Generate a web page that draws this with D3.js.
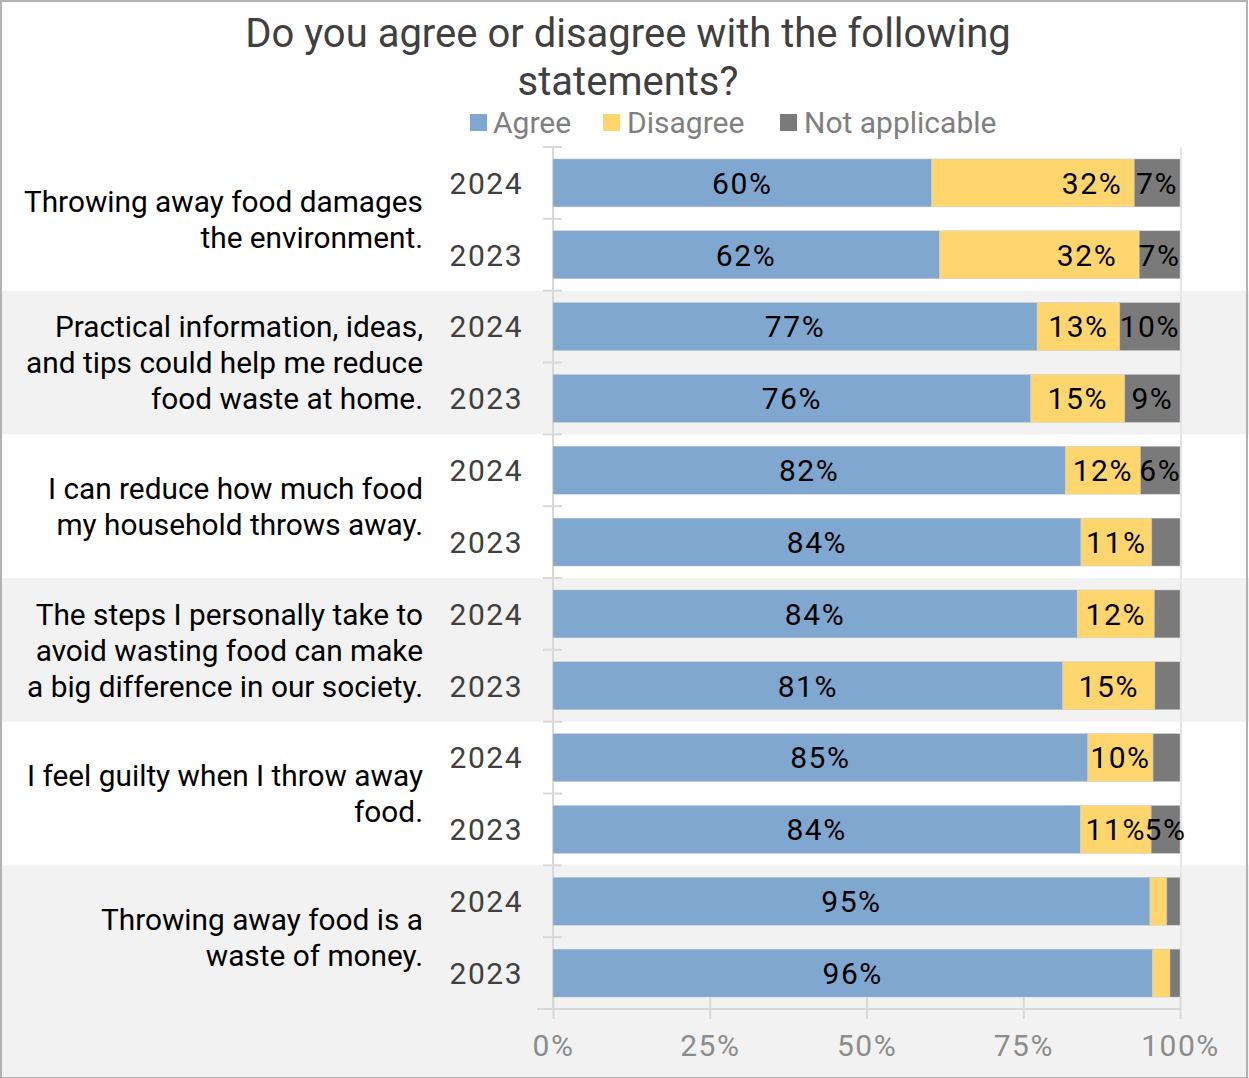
<!DOCTYPE html>
<html>
<head>
<meta charset="utf-8">
<script src="https://cdn.jsdelivr.net/npm/d3@7"></script>
<style>
  html, body { margin: 0; padding: 0; background: #ffffff; }
  svg text { font-family: Roboto, "Liberation Sans", sans-serif; }
</style>
</head>
<body>
<svg id="chart" width="1249" height="1078"></svg>
<script>
// Survey statements (one line per array entry)
const statements = [
  ["Throwing away food damages", "the environment."],
  ["Practical information, ideas,", "and tips could help me reduce", "food waste at home."],
  ["I can reduce how much food", "my household throws away."],
  ["The steps I personally take to", "avoid wasting food can make", "a big difference in our society."],
  ["I feel guilty when I throw away", "food."],
  ["Throwing away food is a", "waste of money."]
];
const years = ["2024", "2023"];
const seriesNames = ["Agree", "Disagree", "Not applicable"];

// Shares in percent, per statement, [2024, 2023]
const agree = [
  [60.4, 61.6], [77.2, 76.2], [81.7, 84.2], [83.6, 81.3], [85.3, 84.1], [95.2, 95.6]
];
const disagree = [
  [32.3, 31.9], [13.2, 15.0], [12.0, 11.3], [12.3, 14.7], [10.4, 11.3], [2.7, 2.8]
];
const notApplicable = [
  [7.3, 6.5], [9.6, 8.8], [6.3, 4.5], [4.1, 4.0], [4.3, 4.6], [2.1, 1.6]
];
// Which value labels are printed, per series, per statement, [2024, 2023]
const showAgreeLabel = [[1, 1], [1, 1], [1, 1], [1, 1], [1, 1], [1, 1]];
const showDisagreeLabel = [[1, 1], [1, 1], [1, 1], [1, 1], [1, 1], [0, 0]];
const showNALabel = [[1, 1], [1, 1], [1, 0], [0, 0], [0, 1], [0, 0]];
const tickValues = [0, 25, 50, 75, 100];

const colors = ["#7fa7cf", "#ffd66d", "#7a7a7a"];

const svg = d3.select("#chart");
const W = 1249, H = 1078;

const x = d3.scaleLinear().domain([0, 100]).range([553, 1180]);
const groupIdx = d3.range(statements.length);
const yGroup = d3.scaleBand().domain(groupIdx).range([147, 1009]);
const yYear = d3.scaleBand().domain(years)
  .range([0, yGroup.bandwidth()])
  .paddingInner(1 / 3).paddingOuter(1 / 6);

// background and alternating bands
svg.append("rect").attr("x", 0).attr("y", 0).attr("width", W).attr("height", H).attr("fill", "#ffffff");
groupIdx.forEach(g => {
  if (g % 2 === 1) {
    const top = yGroup(g);
    const bottom = g === statements.length - 1 ? H : top + yGroup.bandwidth();
    svg.append("rect")
      .attr("x", 0).attr("y", top)
      .attr("width", W).attr("height", bottom - top)
      .attr("fill", "#f2f2f2");
  }
});

// title
svg.append("text")
  .attr("x", 628).attr("y", 47)
  .attr("text-anchor", "middle")
  .attr("font-size", 40).attr("fill", "#404040")
  .selectAll("tspan")
  .data(["Do you agree or disagree with the following", "statements?"])
  .join("tspan")
  .attr("x", 628).attr("dy", (d, i) => i === 0 ? 0 : 48)
  .text(d => d);

// legend
const legendItems = [
  { name: seriesNames[0], sx: 470, tx: 493 },
  { name: seriesNames[1], sx: 603, tx: 627 },
  { name: seriesNames[2], sx: 780, tx: 804 }
];
const legend = svg.append("g");
legendItems.forEach((it, i) => {
  legend.append("rect").attr("x", it.sx).attr("y", 114).attr("width", 17).attr("height", 17).attr("fill", colors[i]);
  legend.append("text").attr("x", it.tx).attr("y", 133)
    .attr("font-size", 30).attr("fill", "#7f7f7f").text(it.name);
});

// axes lines
const axisColor = "#d9d9d9";
svg.append("line")
  .attr("x1", 553).attr("x2", 553)
  .attr("y1", yGroup.range()[0]).attr("y2", yGroup.range()[1])
  .attr("stroke", axisColor).attr("stroke-width", 2);
svg.append("line")
  .attr("x1", x(100) + 1).attr("x2", x(100) + 1)
  .attr("y1", yGroup.range()[0]).attr("y2", yGroup.range()[1])
  .attr("stroke", "#e6e6e6").attr("stroke-width", 2);

// category tick marks at each row boundary
const rowEdges = [];
groupIdx.forEach(g => {
  rowEdges.push(yGroup(g));
  rowEdges.push(yGroup(g) + yGroup.bandwidth() / 2);
});
rowEdges.push(yGroup.range()[1]);
svg.append("g").selectAll("line").data(rowEdges).join("line")
  .attr("x1", 543).attr("x2", 562)
  .attr("y1", d => d).attr("y2", d => d)
  .attr("stroke", axisColor).attr("stroke-width", 2);

// x axis
const xAxis = d3.axisBottom(x)
  .tickValues(tickValues)
  .tickFormat(d => d + "%")
  .tickSize(10)
  .tickPadding(16);
const gx = svg.append("g").attr("transform", `translate(0,${yGroup.range()[1]})`).call(xAxis);
gx.select(".domain").remove();
gx.selectAll(".tick line").attr("y1", -12).attr("y2", 10).attr("stroke", axisColor).attr("stroke-width", 2);
gx.selectAll(".tick text").attr("font-size", 30).attr("fill", "#8c8c8c")
  .attr("letter-spacing", 1.5)
  .attr("font-family", "Roboto, sans-serif").attr("dy", "0.71em");
svg.append("line")
  .attr("x1", 537).attr("x2", x(100))
  .attr("y1", yGroup.range()[1]).attr("y2", yGroup.range()[1])
  .attr("stroke", axisColor).attr("stroke-width", 2);

// bars
const seriesVals = [agree, disagree, notApplicable];
const seriesShow = [showAgreeLabel, showDisagreeLabel, showNALabel];
const fmt = v => Math.round(v) + "%";

const barsG = svg.append("g");
const labelsG = svg.append("g");
groupIdx.forEach(g => {
  years.forEach((yr, yi) => {
    const y0 = yGroup(g) + yYear(yr);
    const bh = yYear.bandwidth();
    let cum = 0;
    seriesVals.forEach((arr, si) => {
      const v = arr[g][yi];
      const xs = x(cum), xe = x(cum + v);
      cum += v;
      barsG.append("rect")
        .attr("x", xs).attr("y", y0)
        .attr("width", xe - xs).attr("height", bh)
        .attr("fill", colors[si])
        .attr("stroke", "#c9c9c9").attr("stroke-width", 0.5);
      if (seriesShow[si][g][yi]) {
        let lx = (xs + xe) / 2, anchor = "middle";
        if (si === 1 && xe - xs > 150) { lx = xe - 12 - yi * 10; anchor = "end"; }
        labelsG.append("text")
          .attr("x", lx).attr("y", y0 + bh / 2)
          .attr("dy", "0.36em")
          .attr("text-anchor", anchor)
          .attr("font-size", 30).attr("letter-spacing", 1.6)
          .attr("fill", "#000000")
          .text(fmt(v));
      }
    });
    // year label
    labelsG.append("text")
      .attr("x", 523).attr("y", y0 + bh / 2)
      .attr("dy", "0.36em")
      .attr("text-anchor", "end")
      .attr("font-size", 30).attr("letter-spacing", 1.5)
      .attr("fill", "#404040")
      .text(yr);
  });
});

// statement labels
groupIdx.forEach(g => {
  const lines = statements[g];
  const cy = yGroup(g) + yGroup.bandwidth() / 2;
  const lh = 36;
  const startY = cy - (lines.length - 1) * lh / 2;
  const t = svg.append("text")
    .attr("text-anchor", "end")
    .attr("font-size", 29.8).attr("fill", "#000000");
  lines.forEach((ln, i) => {
    t.append("tspan").attr("x", 423).attr("y", startY + i * lh).attr("dy", "0.36em").text(ln);
  });
});

// chart border
svg.append("rect")
  .attr("x", 1).attr("y", 1).attr("width", W - 3).attr("height", H - 1)
  .attr("fill", "none").attr("stroke", "#b3b3b3").attr("stroke-width", 2);
</script>
</body>
</html>
